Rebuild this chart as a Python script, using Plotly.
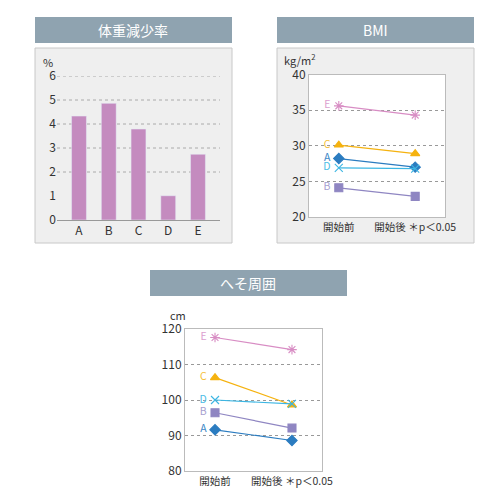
import plotly.graph_objects as go

# 体重減少率
groups = ["A", "B", "C", "D", "E"]
weight_loss = [4.33, 4.86, 3.79, 1.01, 2.74]

# BMI / へそ周囲 (開始前 -> 開始後)
periods = ["開始前", "開始後 ＊p＜0.05"]
bmi_before = [28.2, 24.1, 30.1, 26.9, 35.6]
bmi_after = [27.0, 22.9, 28.9, 26.8, 34.3]
waist_before = [91.6, 96.4, 106.3, 100.0, 117.6]
waist_after = [88.6, 92.1, 98.6, 98.9, 114.2]

colors = ["#2b7cc0", "#8f86c2", "#f5b20f", "#3cb6e3", "#d88dc4"]
label_colors = ["#3a86c6", "#a79fd0", "#f5bf3a", "#4cbde6", "#dca0cf"]
symbols = ["diamond", "square", "triangle-up", "x-thin-open", "asterisk-open"]

font = "Noto Sans CJK JP, Noto Sans, sans-serif"
tick_font = dict(family=font, size=12, color="#333")

# page pixels -> paper coords (the page body has an 8px margin)
W = 500
OFF = 8
def px(x):
    return (x - OFF) / W
def py(y):
    return 1 - (y - OFF) / W

fig = go.Figure()

fig.add_trace(go.Bar(x=groups, y=weight_loss, marker_color="#c48bbf", width=0.5,
                     xaxis="x", yaxis="y", showlegend=False))

for i, g in enumerate(groups):
    fig.add_trace(go.Scatter(x=[0, 1], y=[bmi_before[i], bmi_after[i]], mode="lines+markers+text",
                             text=[g + " ", ""], textposition="middle left",
                             textfont=dict(family=font, size=10.5, color=label_colors[i]),
                             line=dict(color=colors[i], width=1.2),
                             marker=dict(symbol=symbols[i], size=8, color=colors[i], line=dict(color=colors[i], width=1.1)),
                             xaxis="x2", yaxis="y2", showlegend=False, cliponaxis=False))
    fig.add_trace(go.Scatter(x=[0, 1], y=[waist_before[i], waist_after[i]], mode="lines+markers+text",
                             text=[g + " ", ""], textposition="middle left",
                             textfont=dict(family=font, size=10.5, color=label_colors[i]),
                             line=dict(color=colors[i], width=1.2),
                             marker=dict(symbol=symbols[i], size=8, color=colors[i], line=dict(color=colors[i], width=1.1)),
                             xaxis="x3", yaxis="y3", showlegend=False, cliponaxis=False))

# panel boxes and title bars
shapes = []
for x0, x1 in [(35, 232), (277, 474)]:
    shapes.append(dict(type="rect", xref="paper", yref="paper", x0=px(x0), x1=px(x1),
                       y0=py(243), y1=py(48), fillcolor="#efefef", line=dict(color="#c8c8c8", width=1), layer="below"))
for x0, y0 in [(35, 17), (277, 17), (150, 270)]:
    shapes.append(dict(type="rect", xref="paper", yref="paper", x0=px(x0), x1=px(x0 + 197),
                       y0=py(y0 + 26), y1=py(y0), fillcolor="#8fa3b0", line=dict(width=0), layer="below"))
for ax in ["x2", "x3"]:
    shapes.append(dict(type="rect", xref=ax+" domain", yref="y"+ax[1]+" domain", x0=0, x1=1, y0=0, y1=1,
                       fillcolor="white", line=dict(width=0), layer="below"))
for v in [2, 3, 4, 5, 6]:
    shapes.append(dict(type="line", xref="x domain", yref="y", x0=0, x1=1, y0=v, y1=v,
                       line=dict(color="#999", width=0.8, dash="dot"), layer="below"))

annotations = []
for text, x, y in [("体重減少率", 133, 30), ("BMI", 375, 30), ("へそ周囲", 248, 283)]:
    annotations.append(dict(text=text, x=px(x), y=py(y), xref="paper", yref="paper", showarrow=False,
                            xanchor="center", yanchor="middle",
                            font=dict(family=font, size=14, color="white")))
for text, x, y in [("%", 48, 62), ("kg/m<sup>2</sup>", 300, 60), ("cm", 178, 315)]:
    annotations.append(dict(text=text, x=px(x), y=py(y), xref="paper", yref="paper", showarrow=False,
                            xanchor="center", yanchor="middle",
                            font=dict(family=font, size=11, color="#333")))

grid_axis = dict(showgrid=True, gridcolor="#999", griddash="dot", gridwidth=0.8, zeroline=False, automargin=False,
                 showline=True, mirror=True, linecolor="#bbb", linewidth=1, tickfont=tick_font, ticks="")
cat_axis = dict(range=[-0.39, 1.39], tickvals=[0, 1], ticktext=periods, showgrid=False, zeroline=False,
                showline=True, mirror=True, linecolor="#bbb", linewidth=1, automargin=False,
                tickfont=dict(family=font, size=10.5, color="#333"))

fig.update_layout(
    width=W, height=W, margin=dict(l=0, r=0, t=0, b=0, autoexpand=False),
    paper_bgcolor="white", plot_bgcolor="rgba(0,0,0,0)",
    xaxis=dict(domain=[px(57), px(220)], range=[-0.74, 4.74], showgrid=False, showline=True, automargin=False,
               linecolor="#999", linewidth=1, tickfont=tick_font, zeroline=False),
    yaxis=dict(domain=[py(220), py(76)], range=[0, 6], dtick=1, showgrid=False, zeroline=False,
               automargin=False, tickfont=tick_font),
    xaxis2=dict(domain=[px(309), px(445)], anchor="y2", **cat_axis),
    yaxis2=dict(domain=[py(217), py(74.5)], anchor="x2", range=[20, 40], dtick=5, **grid_axis),
    xaxis3=dict(domain=[px(185), px(322)], anchor="y3", **cat_axis),
    yaxis3=dict(domain=[py(471), py(329)], anchor="x3", range=[80, 120], dtick=10, **grid_axis),
    shapes=shapes, annotations=annotations,
)

fig.write_html("out.html")
